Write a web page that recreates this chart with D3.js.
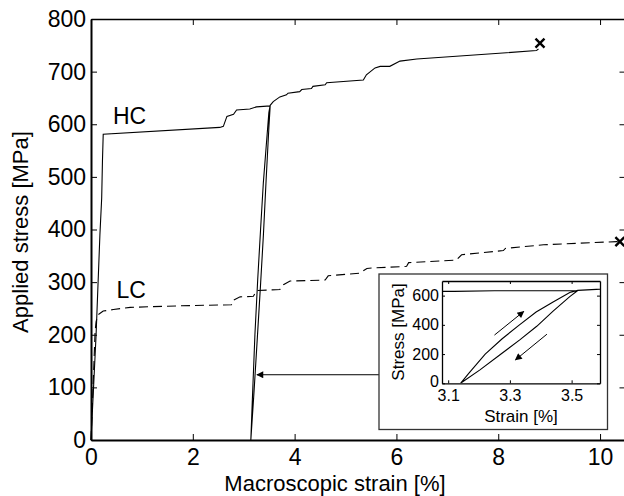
<!DOCTYPE html>
<html>
<head>
<meta charset="utf-8">
<script src="https://cdn.jsdelivr.net/npm/d3@7"></script>
<style>
  body { margin: 0; background: #fff; }
  text { font-family: "Liberation Sans", Arial, Helvetica, sans-serif; fill: #000; }
</style>
</head>
<body>
<script>
// stage
let width = 624;
let height = 496;

let svg = d3.select("body")
  .append("svg")
  .attr("width", width)
  .attr("height", height);

// HC curve: load, unload/reload loop at ~3.5 %, then load to failure
const hcStrain = [0, 0.1, 0.175, 0.21, 0.225, 0.24, 2.53, 2.6, 2.67, 2.8, 2.86, 3.12, 3.25, 3.52,
  3.494, 3.44, 3.387, 3.333, 3.268, 3.203, 3.14,
  3.168, 3.22, 3.275, 3.33, 3.385, 3.44, 3.494, 3.52,
  3.58, 3.71, 3.84, 3.87, 4.1, 4.14, 4.33, 4.36, 4.6, 4.63, 5.35, 5.41, 5.58, 5.68, 5.87, 6.07, 6.4, 8.75, 8.79];
const hcStress = [0, 200, 390, 460, 530, 581, 594, 596, 615, 619, 627, 629, 633, 635,
  593, 494, 390, 299, 195, 92, 0,
  72, 200, 305, 398, 488, 556, 622, 636,
  643, 652, 656, 659, 662, 666, 668, 672, 675, 679, 684, 694, 707, 710, 710, 720, 724, 740, 743];

// LC curve (dashed)
const lcStrain = [0, 0.04, 0.08, 0.1, 0.14, 0.24, 0.44, 0.77, 1.75, 2.76, 2.8, 2.93, 3.19, 3.25, 3.71, 3.78,
  3.91, 4.6, 4.66, 5.28, 5.42, 5.55, 6.2, 6.24, 7.18, 7.28, 8.1, 8.14, 8.89, 10.33, 10.39];
const lcStress = [0, 100, 205, 225, 238, 245, 248, 252, 255, 257, 266, 272, 273, 284, 286, 295,
  302, 304, 312, 317, 326, 327, 330, 337, 342, 352, 360, 364, 371, 377, 377];

// failure markers [strain, stress]
const failHC = [8.82, 754];
const failLC = [10.39, 377];

const xTicks = [0, 2, 4, 6, 8, 10];
const yTicks = [0, 100, 200, 300, 400, 500, 600, 700, 800];
const insetXTicks = [3.1, 3.3, 3.5];
const insetYTicks = [0, 200, 400, 600];

// inset arrows [x1, y1, x2, y2] in inset units
const insetArrows = [[3.25, 330, 3.345, 492], [3.42, 336, 3.318, 160]];
// pointer from inset to loop, main units
const pointer = [5.66, 124, 3.26, 124];

const hc = hcStrain.map((d, i) => [d, hcStress[i]]);
const lc = lcStrain.map((d, i) => [d, lcStress[i]]);

// main axes
const x = d3.scaleLinear().domain([0, 10.5]).range([91, 625.5]);
const y = d3.scaleLinear().domain([0, 800]).range([440, 19]);

let defs = svg.append("defs");
defs.append("marker")
  .attr("id", "head")
  .attr("viewBox", "0 0 10 10")
  .attr("refX", 9).attr("refY", 5)
  .attr("markerWidth", 12).attr("markerHeight", 7)
  .attr("markerUnits", "userSpaceOnUse")
  .attr("orient", "auto")
  .append("path").attr("d", "M0,0L10,5L0,10Z").attr("fill", "#000");
defs.append("marker")
  .attr("id", "ihead")
  .attr("viewBox", "0 0 10 10")
  .attr("refX", 9).attr("refY", 5)
  .attr("markerWidth", 10).attr("markerHeight", 7)
  .attr("markerUnits", "userSpaceOnUse")
  .attr("orient", "auto")
  .append("path").attr("d", "M0,0L10,5L0,10Z").attr("fill", "#000");

let line = d3.line().x(d => x(d[0])).y(d => y(d[1]));

svg.append("path").attr("d", line(hc))
  .attr("fill", "none").attr("stroke", "#000").attr("stroke-width", 1.1);
svg.append("path").attr("d", line(lc))
  .attr("fill", "none").attr("stroke", "#000").attr("stroke-width", 1.1)
  .attr("stroke-dasharray", "9,5");

function cross(g, cx, cy, r) {
  g.append("path")
    .attr("d", `M${cx - r},${cy - r}L${cx + r},${cy + r}M${cx - r},${cy + r}L${cx + r},${cy - r}`)
    .attr("stroke", "#000").attr("stroke-width", 2.4).attr("fill", "none");
}
cross(svg, x(failHC[0]), y(failHC[1]), 4.5);
cross(svg, x(failLC[0]), y(failLC[1]), 4.5);

// axes with inward ticks on all sides
function styleAxis(g) {
  g.selectAll("text").style("font-size", "23px").attr("fill", "#000");
  g.selectAll("line").attr("stroke", "#000");
}
svg.append("g").attr("transform", `translate(0,${y(0)})`)
  .call(d3.axisBottom(x).tickValues(xTicks).tickSizeInner(-6).tickSizeOuter(0).tickPadding(9))
  .call(styleAxis)
  .call(g => g.select(".domain").attr("stroke-width", 2).attr("stroke", "#000"));
svg.append("g").attr("transform", `translate(${x(0)},0)`)
  .call(d3.axisLeft(y).tickValues(yTicks).tickSizeInner(-6).tickSizeOuter(0).tickPadding(5))
  .call(styleAxis)
  .call(g => g.select(".domain").attr("stroke-width", 2).attr("stroke", "#000"));
svg.append("g").attr("transform", `translate(0,${y(800)})`)
  .call(d3.axisTop(x).tickValues(xTicks).tickSizeInner(-6).tickSizeOuter(0).tickFormat(""))
  .call(styleAxis)
  .call(g => g.select(".domain").attr("stroke-width", 1.5).attr("stroke", "#000"));
svg.append("g").attr("transform", `translate(${x(10.5)},0)`)
  .call(d3.axisRight(y).tickValues(yTicks).tickSizeInner(-6).tickSizeOuter(0).tickFormat(""))
  .call(styleAxis);

svg.append("text").attr("x", 335).attr("y", 491)
  .attr("text-anchor", "middle").style("font-size", "22px")
  .text("Macroscopic strain [%]");
svg.append("text").attr("transform", "translate(28,232) rotate(-90)")
  .attr("text-anchor", "middle").style("font-size", "22px")
  .text("Applied stress [MPa]");

svg.append("text").attr("x", x(0.43)).attr("y", y(601)).style("font-size", "23px").text("HC");
svg.append("text").attr("x", x(0.5)).attr("y", y(270)).style("font-size", "23px").text("LC");

// pointer arrow
svg.append("line")
  .attr("x1", x(pointer[0])).attr("y1", y(pointer[1]))
  .attr("x2", x(pointer[2])).attr("y2", y(pointer[3]))
  .attr("stroke", "#000").attr("stroke-width", 1)
  .attr("marker-end", "url(#head)");

// inset
let inset = svg.append("g");
inset.append("rect")
  .attr("x", 379).attr("y", 274).attr("width", 228.5).attr("height", 155.5)
  .attr("fill", "#fff").attr("stroke", "#333").attr("stroke-width", 1.3);

const ix = d3.scaleLinear().domain([3.08, 3.592]).range([442, 600]);
const iy = d3.scaleLinear().domain([0, 700]).range([383.3, 281]);

inset.append("clipPath").attr("id", "iclip")
  .append("rect").attr("x", 442).attr("y", 281).attr("width", 158).attr("height", 102.3);

let iline = d3.line().x(d => ix(d[0])).y(d => iy(d[1]));
inset.append("path").attr("d", iline(hc)).attr("clip-path", "url(#iclip)")
  .attr("fill", "none").attr("stroke", "#000").attr("stroke-width", 1.1);

insetArrows.forEach(a => {
  inset.append("line")
    .attr("x1", ix(a[0])).attr("y1", iy(a[1]))
    .attr("x2", ix(a[2])).attr("y2", iy(a[3]))
    .attr("stroke", "#000").attr("stroke-width", 1)
    .attr("marker-end", "url(#ihead)");
});

function styleInset(g) {
  g.selectAll("text").style("font-size", "16px").attr("fill", "#000");
  g.selectAll("line").attr("stroke", "#000");
  g.select(".domain").attr("stroke", "#000").attr("stroke-width", 1.3);
}
inset.append("g").attr("transform", "translate(0,383.3)")
  .call(d3.axisBottom(ix).tickValues(insetXTicks).tickFormat(d3.format(".1f")).tickSizeInner(-3).tickSizeOuter(0).tickPadding(6))
  .call(styleInset);
inset.append("g").attr("transform", "translate(442,0)")
  .call(d3.axisLeft(iy).tickValues(insetYTicks).tickSizeInner(-3).tickSizeOuter(0).tickPadding(3))
  .call(styleInset)
  .call(g => g.selectAll(".tick text").filter(d => d === 0).attr("dy", "0.2em"));
inset.append("g").attr("transform", "translate(0,281)")
  .call(d3.axisTop(ix).tickValues(insetXTicks).tickSizeInner(-3).tickSizeOuter(0).tickFormat(""))
  .call(styleInset);
inset.append("g").attr("transform", "translate(600,0)")
  .call(d3.axisRight(iy).tickValues(insetYTicks).tickSizeInner(-3).tickSizeOuter(0).tickFormat(""))
  .call(styleInset);

inset.append("text").attr("x", 521).attr("y", 422)
  .attr("text-anchor", "middle").style("font-size", "17px").text("Strain [%]");
inset.append("text").attr("transform", "translate(404,332) rotate(-90)")
  .attr("text-anchor", "middle").style("font-size", "17px").text("Stress [MPa]");
</script>
</body>
</html>
